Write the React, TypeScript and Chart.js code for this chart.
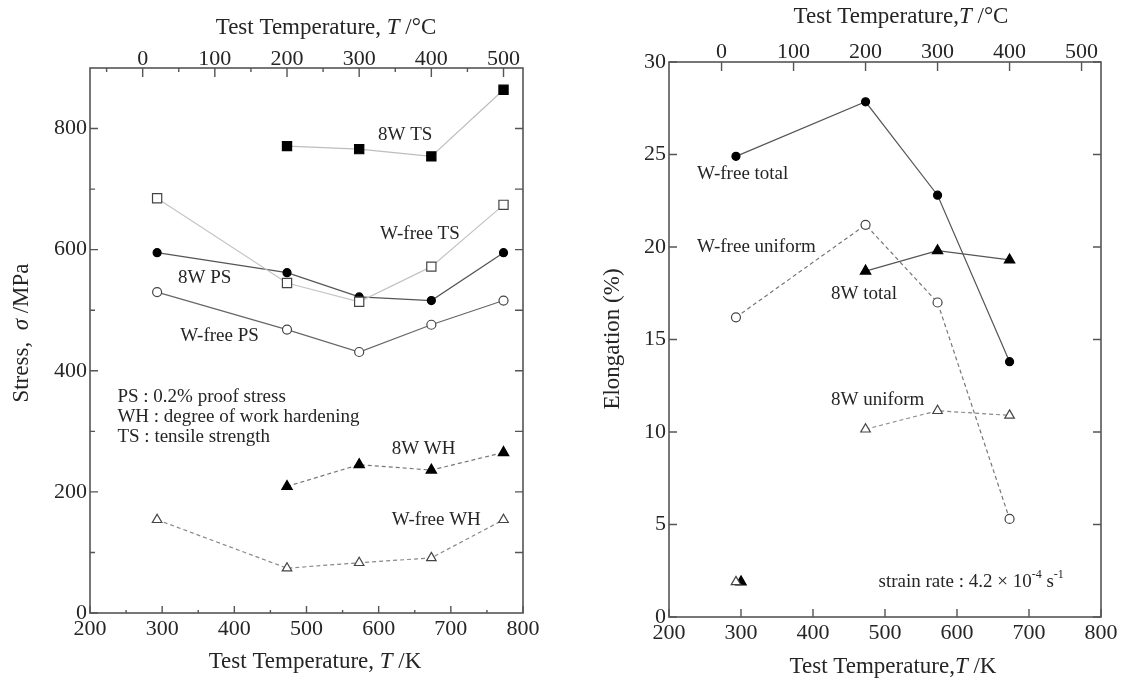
import React, { useEffect, useRef } from 'react';
import { Chart, registerables } from 'chart.js';

Chart.register(...registerables);

// ---------- data: left panel (stress vs temperature) ----------
const tempK = [293, 473, 573, 673, 773];
const ts8W = [null, 771, 766, 754, 864];
const tsWfree = [685, 545, 514, 572, 674];
const ps8W = [595, 562, 522, 516, 595];
const psWfree = [530, 468, 431, 476, 516];
const wh8W = [null, 209, 245, 236, 265];
const whWfree = [154, 74, 83, 91, 154];

// ---------- data: right panel (elongation vs temperature) ----------
const elongTempK = [293, 473, 573, 673];
const totalWfree = [24.9, 27.85, 22.8, 13.8];
const uniformWfree = [16.2, 21.2, 17.0, 5.3];
const total8W = [null, 18.7, 19.8, 19.3];
const uniform8W = [null, 10.15, 11.15, 10.9];
const rtTotal8WK = [300];
const rtTotal8W = [1.9];
const rtUniform8WK = [293];
const rtUniform8W = [1.9];

// ---------- tick values ----------
const kelvinTicks = [200, 300, 400, 500, 600, 700, 800];
const kelvinMinor = [250, 350, 450, 550, 650, 750];
const celsiusTicks = [0, 100, 200, 300, 400, 500];
const celsiusMinor = [-50, 50, 150, 250, 350, 450];
const stressTicks = [0, 200, 400, 600, 800];
const stressMinor = [100, 300, 500, 700];
const stressAll = [100, 200, 300, 400, 500, 600, 700, 800];
const elongTicks = [0, 5, 10, 15, 20, 25, 30];
const KELVIN_OFFSET = 273;

const FONT = '"Liberation Serif", "DejaVu Serif", "Times New Roman", serif';
const TEXT = '#252525';
const FRAME = '#555';

type Seg = { t: string; it?: boolean; sup?: boolean };

function drawSegs(ctx: CanvasRenderingContext2D, segs: Seg[], x: number, y: number, size: number, align: 'left' | 'center') {
  const fontFor = (s: Seg) => `${s.it ? 'italic ' : ''}${s.sup ? Math.round(size * 0.65) : size}px ${FONT}`;
  let total = 0;
  const widths: number[] = [];
  for (const s of segs) {
    ctx.font = fontFor(s);
    const w = ctx.measureText(s.t).width;
    widths.push(w);
    total += w;
  }
  let cx = align === 'center' ? x - total / 2 : x;
  ctx.textAlign = 'left';
  ctx.textBaseline = 'middle';
  segs.forEach((s, i) => {
    ctx.font = fontFor(s);
    ctx.fillText(s.t, cx, s.sup ? y - size * 0.38 : y);
    cx += widths[i];
  });
}

const decorPlugin = {
  id: 'decor',
  afterDatasetsDraw(chart: any, _args: any, opts: any) {
    const { ctx, chartArea: a, scales } = chart;
    ctx.save();
    // frame
    ctx.strokeStyle = FRAME;
    ctx.lineWidth = 1.6;
    ctx.strokeRect(a.left, a.top, a.right - a.left, a.bottom - a.top);
    // inward ticks
    for (const m of opts.marks || []) {
      const s = scales[m.scale];
      ctx.lineWidth = 1.4;
      ctx.beginPath();
      for (const v of m.values) {
        const p = s.getPixelForValue(v);
        if (m.side === 'bottom') { ctx.moveTo(p, a.bottom); ctx.lineTo(p, a.bottom - m.len); }
        if (m.side === 'top') { ctx.moveTo(p, a.top); ctx.lineTo(p, a.top + m.len); }
        if (m.side === 'left') { ctx.moveTo(a.left, p); ctx.lineTo(a.left + m.len, p); }
        if (m.side === 'right') { ctx.moveTo(a.right, p); ctx.lineTo(a.right - m.len, p); }
      }
      ctx.stroke();
    }
    // annotations in data coordinates
    ctx.fillStyle = TEXT;
    for (const l of opts.labels || []) {
      const px = scales.x.getPixelForValue(l.x);
      const py = scales.y.getPixelForValue(l.y);
      drawSegs(ctx, l.segs, px, py, l.size || 19, 'left');
    }
    // axis titles (canvas positions)
    for (const t of opts.titles || []) {
      ctx.save();
      ctx.translate(t.x, t.y);
      if (t.rotate) ctx.rotate(t.rotate);
      drawSegs(ctx, t.segs, 0, 0, t.size || 23, 'center');
      ctx.restore();
    }
    ctx.restore();
  },
};

function series(xs: number[], ys: (number | null)[], style: any) {
  const data = xs.map((x, i) => ({ x, y: ys[i] })).filter((p) => p.y !== null);
  return { data, showLine: true, borderWidth: 1.2, pointBorderWidth: 1.2, ...style };
}

const tickFont = { family: FONT, size: 22 };

function setTicks(values: number[]) {
  return (scale: any) => {
    scale.ticks = values.map((v) => ({ value: v }));
  };
}

function baseAxis(extra: any, padding = 3) {
  return {
    type: 'linear',
    grid: { display: false, drawTicks: false },
    border: { display: false },
    ticks: { font: tickFont, color: TEXT, autoSkip: false, maxRotation: 0, minRotation: 0, padding },
    ...extra,
  };
}

function makeLeft(canvas: HTMLCanvasElement) {
  const filled = { pointBackgroundColor: '#000', pointBorderColor: '#000' };
  const open = { pointBackgroundColor: '#fff', pointBorderColor: '#444' };
  return new Chart(canvas, {
    type: 'scatter',
    data: {
      datasets: [
        series(tempK, ts8W, { ...filled, borderColor: '#bdbdbd', pointStyle: 'rect', pointRadius: 6.5 }),
        series(tempK, tsWfree, { ...open, borderColor: '#c4c4c4', pointStyle: 'rect', pointRadius: 6.5 }),
        series(tempK, ps8W, { ...filled, borderColor: '#555', pointStyle: 'circle', pointRadius: 4 }),
        series(tempK, psWfree, { ...open, borderColor: '#666', pointStyle: 'circle', pointRadius: 4.5 }),
        series(tempK, wh8W, { ...filled, borderColor: '#777', borderDash: [4, 3], pointStyle: 'triangle', pointRadius: 6 }),
        series(tempK, whWfree, { ...open, borderColor: '#888', borderDash: [4, 3], pointStyle: 'triangle', pointRadius: 5.5 }),
      ],
    },
    options: {
      animation: false,
      responsive: false,
      layout: { padding: { left: 0, right: 37, top: 0, bottom: 0 } },
      scales: {
        x: baseAxis({
          position: 'bottom', min: 200, max: 800,
          afterBuildTicks: setTicks(kelvinTicks),
          afterFit: (s: any) => { s.height = 71; },
        }),
        x2: baseAxis({
          position: 'top', min: 200 - KELVIN_OFFSET, max: 800 - KELVIN_OFFSET,
          afterBuildTicks: setTicks(celsiusTicks),
          afterFit: (s: any) => { s.height = 68; },
        }, -4),
        y: baseAxis({
          position: 'left', min: 0, max: 900,
          afterBuildTicks: setTicks(stressTicks),
          afterFit: (s: any) => { s.width = 90; },
        }),
      },
      plugins: {
        legend: { display: false },
        tooltip: { enabled: false },
        decor: {
          marks: [
            { scale: 'x', side: 'bottom', values: kelvinTicks, len: 7 },
            { scale: 'x', side: 'bottom', values: kelvinMinor, len: 3 },
            { scale: 'x2', side: 'top', values: celsiusTicks, len: 9 },
            { scale: 'x2', side: 'top', values: celsiusMinor, len: 4 },
            { scale: 'y', side: 'left', values: stressTicks, len: 8 },
            { scale: 'y', side: 'left', values: stressMinor, len: 5 },
            { scale: 'y', side: 'right', values: stressAll, len: 8 },
          ],
          labels: [
            { x: 599, y: 789, segs: [{ t: '8W TS' }] },
            { x: 602, y: 626, segs: [{ t: 'W-free TS' }] },
            { x: 322, y: 553, segs: [{ t: '8W PS' }] },
            { x: 325, y: 457, segs: [{ t: 'W-free PS' }] },
            { x: 238, y: 357, segs: [{ t: 'PS : 0.2% proof stress' }] },
            { x: 238, y: 324, segs: [{ t: 'WH : degree of work hardening' }] },
            { x: 238, y: 291, segs: [{ t: 'TS : tensile strength' }] },
            { x: 618, y: 271, segs: [{ t: '8W WH' }] },
            { x: 618, y: 154, segs: [{ t: 'W-free WH' }] },
          ],
          titles: [
            { x: 326, y: 28, segs: [{ t: 'Test Temperature, ' }, { t: 'T', it: true }, { t: ' /°C' }] },
            { x: 315, y: 662, segs: [{ t: 'Test Temperature, ' }, { t: 'T', it: true }, { t: ' /K' }] },
            { x: 22, y: 333, rotate: -Math.PI / 2, segs: [{ t: 'Stress,  ' }, { t: 'σ', it: true }, { t: ' /MPa' }] },
          ],
        },
      },
    } as any,
    plugins: [decorPlugin as any],
  });
}

function makeRight(canvas: HTMLCanvasElement) {
  const filled = { pointBackgroundColor: '#000', pointBorderColor: '#000' };
  const open = { pointBackgroundColor: '#fff', pointBorderColor: '#444' };
  return new Chart(canvas, {
    type: 'scatter',
    data: {
      datasets: [
        series(elongTempK, totalWfree, { ...filled, borderColor: '#555', pointStyle: 'circle', pointRadius: 4 }),
        series(elongTempK, uniformWfree, { ...open, borderColor: '#777', borderDash: [4, 3], pointStyle: 'circle', pointRadius: 4.5 }),
        series(elongTempK, total8W, { ...filled, borderColor: '#555', pointStyle: 'triangle', pointRadius: 6 }),
        series(elongTempK, uniform8W, { ...open, borderColor: '#888', borderDash: [4, 3], pointStyle: 'triangle', pointRadius: 5.5 }),
        series(rtUniform8WK, rtUniform8W, { ...open, showLine: false, pointStyle: 'triangle', pointRadius: 5.5 }),
        series(rtTotal8WK, rtTotal8W, { ...filled, showLine: false, pointStyle: 'triangle', pointRadius: 6 }),
      ],
    },
    options: {
      animation: false,
      responsive: false,
      layout: { padding: { left: 0, right: 36, top: 0, bottom: 0 } },
      scales: {
        x: baseAxis({
          position: 'bottom', min: 200, max: 800,
          afterBuildTicks: setTicks(kelvinTicks),
          afterFit: (s: any) => { s.height = 67; },
        }),
        x2: baseAxis({
          position: 'top', min: 200 - KELVIN_OFFSET, max: 800 - KELVIN_OFFSET,
          afterBuildTicks: setTicks(celsiusTicks),
          afterFit: (s: any) => { s.height = 62; },
        }, -3),
        y: baseAxis({
          position: 'left', min: 0, max: 30,
          afterBuildTicks: setTicks(elongTicks),
          afterFit: (s: any) => { s.width = 109; },
        }),
      },
      plugins: {
        legend: { display: false },
        tooltip: { enabled: false },
        decor: {
          marks: [
            { scale: 'x', side: 'bottom', values: kelvinTicks, len: 8 },
            { scale: 'x2', side: 'top', values: celsiusTicks, len: 9 },
            { scale: 'y', side: 'left', values: elongTicks, len: 8 },
            { scale: 'y', side: 'right', values: elongTicks, len: 8 },
          ],
          labels: [
            { x: 239, y: 23.95, segs: [{ t: 'W-free total' }] },
            { x: 239, y: 20.0, segs: [{ t: 'W-free uniform' }] },
            { x: 425, y: 17.44, segs: [{ t: '8W total' }] },
            { x: 425, y: 11.73, segs: [{ t: '8W uniform' }] },
            {
              x: 491, y: 1.9, size: 19,
              segs: [{ t: 'strain rate : 4.2 × 10' }, { t: '-4', sup: true }, { t: ' s' }, { t: '-1', sup: true }],
            },
          ],
          titles: [
            { x: 341, y: 17, segs: [{ t: 'Test Temperature,' }, { t: 'T', it: true }, { t: ' /°C' }] },
            { x: 333, y: 667, segs: [{ t: 'Test Temperature,' }, { t: 'T', it: true }, { t: ' /K' }] },
            { x: 53, y: 339, rotate: -Math.PI / 2, segs: [{ t: 'Elongation (%)' }] },
          ],
        },
      },
    } as any,
    plugins: [decorPlugin as any],
  });
}

export default function App() {
  const leftRef = useRef<HTMLCanvasElement>(null);
  const rightRef = useRef<HTMLCanvasElement>(null);

  useEffect(() => {
    const l = makeLeft(leftRef.current!);
    const r = makeRight(rightRef.current!);
    return () => {
      l.destroy();
      r.destroy();
    };
  }, []);

  return (
    <div style={{ position: 'absolute', left: 0, top: 0, width: 1137, height: 684, background: '#fff' }}>
      <canvas ref={leftRef} width={560} height={684} style={{ position: 'absolute', left: 0, top: 0, width: 560, height: 684 }} />
      <canvas ref={rightRef} width={577} height={684} style={{ position: 'absolute', left: 560, top: 0, width: 577, height: 684 }} />
    </div>
  );
}
